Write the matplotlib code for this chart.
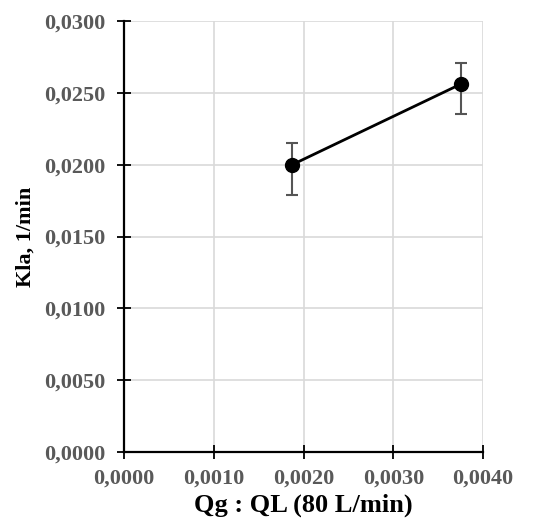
import matplotlib
matplotlib.use("Agg")
import matplotlib.pyplot as plt
from matplotlib.ticker import FuncFormatter, MultipleLocator

# data
QG_QL = [0.001875, 0.00375]
KLA = [0.0200, 0.0256]
ERR_LOW = [0.0021, 0.0021]
ERR_HIGH = [0.0015, 0.0015]

TICK_GRAY = "#595959"


def comma_fmt(v, pos):
    return f"{v:.4f}".replace(".", ",")


plt.rcParams["font.family"] = ["Liberation Serif", "DejaVu Serif"]
plt.rcParams["font.weight"] = "bold"

fig = plt.figure(figsize=(5.35, 5.29), dpi=100)
# axes box from measured pixel positions: x 124..483, y 21..452
ax = fig.add_axes([124 / 535, 1 - 452 / 529, 359 / 535, 431 / 529])

ax.errorbar(QG_QL, KLA, yerr=[ERR_LOW, ERR_HIGH], fmt="none", ecolor="#555555",
            elinewidth=1.5, capsize=4, capthick=1.5, zorder=2)
ax.plot(QG_QL, KLA, color="black", lw=2.0, marker="o", ms=10, zorder=3)

ax.set_xlim(0, 0.004)
ax.set_ylim(0, 0.03)
ax.xaxis.set_major_locator(MultipleLocator(0.001))
ax.yaxis.set_major_locator(MultipleLocator(0.005))
ax.xaxis.set_major_formatter(FuncFormatter(comma_fmt))
ax.yaxis.set_major_formatter(FuncFormatter(comma_fmt))
ax.grid(True, color="#d9d9d9", lw=1.2)
ax.set_axisbelow(True)

for side in ("top", "right"):
    ax.spines[side].set_visible(False)
for side in ("left", "bottom"):
    ax.spines[side].set_linewidth(1.6)
ax.tick_params(direction="inout", length=9.5, width=1.3, labelsize=16,
               labelcolor=TICK_GRAY)
ax.tick_params(axis="y", pad=9)
ax.tick_params(axis="x", pad=7)

ax.set_xlabel("Qg : QL (80 L/min)", fontsize=19, fontweight="bold", labelpad=4)
ax.set_ylabel("Kla, 1/min", fontsize=16, fontweight="bold", labelpad=6)

fig.savefig("out.png", dpi=100)
